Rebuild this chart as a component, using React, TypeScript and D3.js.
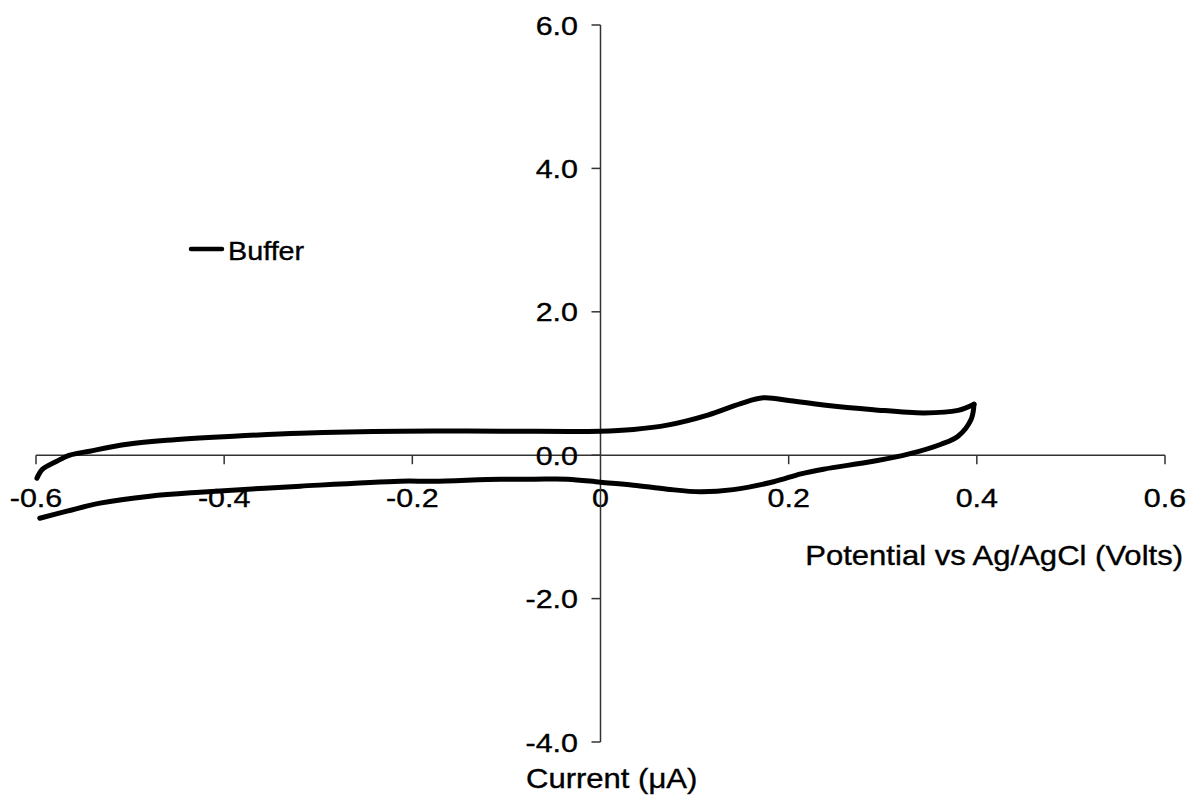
import React from "react";
import * as d3 from "d3";

// Cyclic voltammogram, "Buffer"
const forwardPotential = [-0.599, -0.593, -0.578, -0.564, -0.543, -0.503, -0.461, -0.39, -0.319, -0.213, -0.106, 0, 0.035, 0.071, 0.114, 0.149, 0.173, 0.202, 0.237, 0.29, 0.344, 0.38, 0.397];
const forwardCurrent = [-0.32, -0.195, -0.084, 0.0, 0.056, 0.153, 0.209, 0.265, 0.307, 0.335, 0.335, 0.335, 0.36, 0.42, 0.56, 0.72, 0.8, 0.76, 0.7, 0.635, 0.59, 0.625, 0.711];
const reversePotential = [0.397, 0.394, 0.38, 0.362, 0.327, 0.29, 0.237, 0.213, 0.184, 0.141, 0.106, 0.071, 0.035, 0, -0.035, -0.071, -0.106, -0.178, -0.213, -0.319, -0.426, -0.479, -0.532, -0.567, -0.596];
const reverseCurrent = [0.711, 0.502, 0.265, 0.153, 0.014, -0.084, -0.195, -0.26, -0.37, -0.48, -0.51, -0.474, -0.418, -0.377, -0.335, -0.335, -0.335, -0.363, -0.363, -0.432, -0.516, -0.572, -0.669, -0.781, -0.879];

const xTicks = [-0.6, -0.4, -0.2, 0, 0.2, 0.4, 0.6];
const xTickLabels = ["-0.6", "-0.4", "-0.2", "0", "0.2", "0.4", "0.6"];
const yTicks = [6, 4, 2, 0, -2, -4];
const yTickLabels = ["6.0", "4.0", "2.0", "0.0", "-2.0", "-4.0"];
const seriesName = "Buffer";
const xTitle = "Potential vs Ag/AgCl (Volts)";
const yTitle = "Current (\u03BCA)";

const W = 1189;
const H = 796;
const FONT = "'Liberation Sans', Arial, Helvetica, sans-serif";
const SX = 1.15;
const AXIS = "#333";

function T({ x, y, size, anchor = "start", children }: any) {
  return (
    <text
      transform={`translate(${x},${y}) scale(${SX},1)`}
      fontFamily={FONT}
      fontSize={size}
      textAnchor={anchor}
      fill="#000"
      stroke="#000"
      strokeWidth={0.35}
    >
      {children}
    </text>
  );
}

export default function App() {
  const x = d3.scaleLinear().domain([-0.6, 0.6]).range([36, 1165]);
  const y = d3.scaleLinear().domain([-4, 6]).range([742, 25]);
  const line = d3
    .line<[number, number]>()
    .x((d) => x(d[0]))
    .y((d) => y(d[1]))
    .curve(d3.curveCatmullRom.alpha(0.5));
  const fwd = forwardPotential.map((p, i) => [p, forwardCurrent[i]] as [number, number]);
  const rev = reversePotential.map((p, i) => [p, reverseCurrent[i]] as [number, number]);
  const x0 = x(0);
  const y0 = y(0);

  return (
    <svg
      width={W}
      height={H}
      style={{ position: "absolute", left: 0, top: 0, display: "block", background: "#fff" }}
    >
      <rect width={W} height={H} fill="#fff" />
      {/* x axis */}
      <line x1={x(-0.6)} x2={x(0.6)} y1={y0} y2={y0} stroke={AXIS} strokeWidth={1.5} />
      {xTicks.map((t, i) => (
        <g key={"xt" + i}>
          {t !== 0 && <line x1={x(t)} x2={x(t)} y1={y0} y2={y0 + 9} stroke={AXIS} strokeWidth={1.5} />}
          <T x={x(t)} y={507} size={26.5} anchor="middle">
            {xTickLabels[i]}
          </T>
        </g>
      ))}
      {/* y axis */}
      <line x1={x0} x2={x0} y1={y(6)} y2={y(-4)} stroke={AXIS} strokeWidth={1.5} />
      {yTicks.map((t, i) => (
        <g key={"yt" + i}>
          <line x1={x0 - 9} x2={x0} y1={y(t)} y2={y(t)} stroke={AXIS} strokeWidth={1.5} />
          <T x={578} y={y(t) + 9.5} size={26.5} anchor="end">
            {yTickLabels[i]}
          </T>
        </g>
      ))}
      {/* curve */}
      <path d={line(fwd) || ""} fill="none" stroke="#000" strokeWidth={5} strokeLinecap="round" strokeLinejoin="round" />
      <path d={line(rev) || ""} fill="none" stroke="#000" strokeWidth={5} strokeLinecap="round" strokeLinejoin="round" />
      {/* titles */}
      <T x={1183} y={565} size={27} anchor="end">
        {xTitle}
      </T>
      <T x={526} y={788} size={27}>
        {yTitle}
      </T>
      {/* legend */}
      <line x1={191} x2={222} y1={249} y2={249} stroke="#000" strokeWidth={4.5} strokeLinecap="round" />
      <T x={228} y={260} size={25}>
        {seriesName}
      </T>
    </svg>
  );
}
